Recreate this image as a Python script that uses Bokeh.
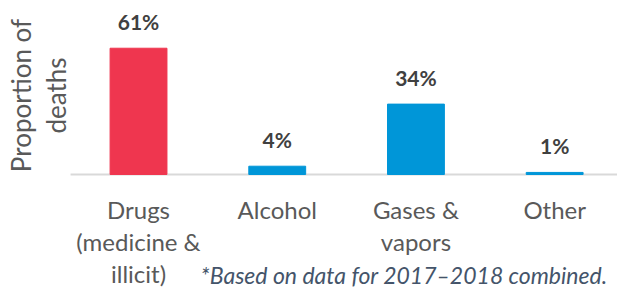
import math
from bokeh.plotting import figure
from bokeh.models import ColumnDataSource, Label, Range1d
from bokeh.core.properties import value
from bokeh.embed import file_html
from bokeh.resources import INLINE

categories = ["Drugs\n(medicine &\nillicit)", "Alcohol", "Gases &\nvapors", "Other"]
proportions = [61, 4, 34, 1]
value_labels = ["61%", "4%", "34%", "1%"]
bar_colors = ["#EF364F", "#0096D8", "#0096D8", "#0096D8"]
y_title = ["Proportion of", "deaths"]
footnote = "*Based on data for 2017\u20132018 combined."

FONT = "Lato"
W, H = 617, 289

p = figure(width=W, height=H, output_backend="svg", toolbar_location=None,
           x_range=Range1d(-0.995, 3.453), y_range=Range1d(-55.56, 84.06),
           min_border=0, outline_line_color=None)
p.xaxis.visible = False
p.yaxis.visible = False
p.xgrid.visible = False
p.ygrid.visible = False
p.background_fill_color = "white"

idx = list(range(len(categories)))
src = ColumnDataSource(dict(x=idx, top=proportions, color=bar_colors, lab=value_labels))

# baseline
p.segment(x0=[-0.49], y0=[0], x1=[3.5], y1=[0], line_color="#D9D9D9", line_width=2)

p.vbar(x="x", top="top", bottom=0, width=0.41, color="color", source=src)

p.text(x="x", y="top", text="lab", source=src, text_align="center", text_baseline="alphabetic",
       y_offset=-27, text_font=value(FONT), text_font_style="bold", text_font_size="21px",
       text_color="#404040")

# category labels (multi-line)
lx, ly, lt, lo = [], [], [], []
for i, c in enumerate(categories):
    for j, line in enumerate(c.split("\n")):
        lx.append(i); ly.append(0); lt.append(line); lo.append(35 + 32 * j)
p.text(x=lx, y=ly, text=lt, y_offset=lo, text_align="center", text_baseline="alphabetic",
       text_font=value(FONT), text_font_size="24px", text_color="#595959")

# y title (rotated)
p.text(x=[0, 0], y=[0, 0], text=y_title, x_offset=[-118, -83], y_offset=[-79, -79], angle=math.pi / 2,
       text_align="center", text_baseline="alphabetic",
       text_font=value(FONT), text_font_size="26px", text_color="#595959")

p.add_layout(Label(x=607, y=1, x_units="screen", y_units="screen", text=footnote,
                   text_align="right", text_baseline="bottom", text_font=FONT,
                   text_font_style="italic", text_font_size="23px", text_color="#44546A"))

open("out.html", "w").write(file_html(p, INLINE))
